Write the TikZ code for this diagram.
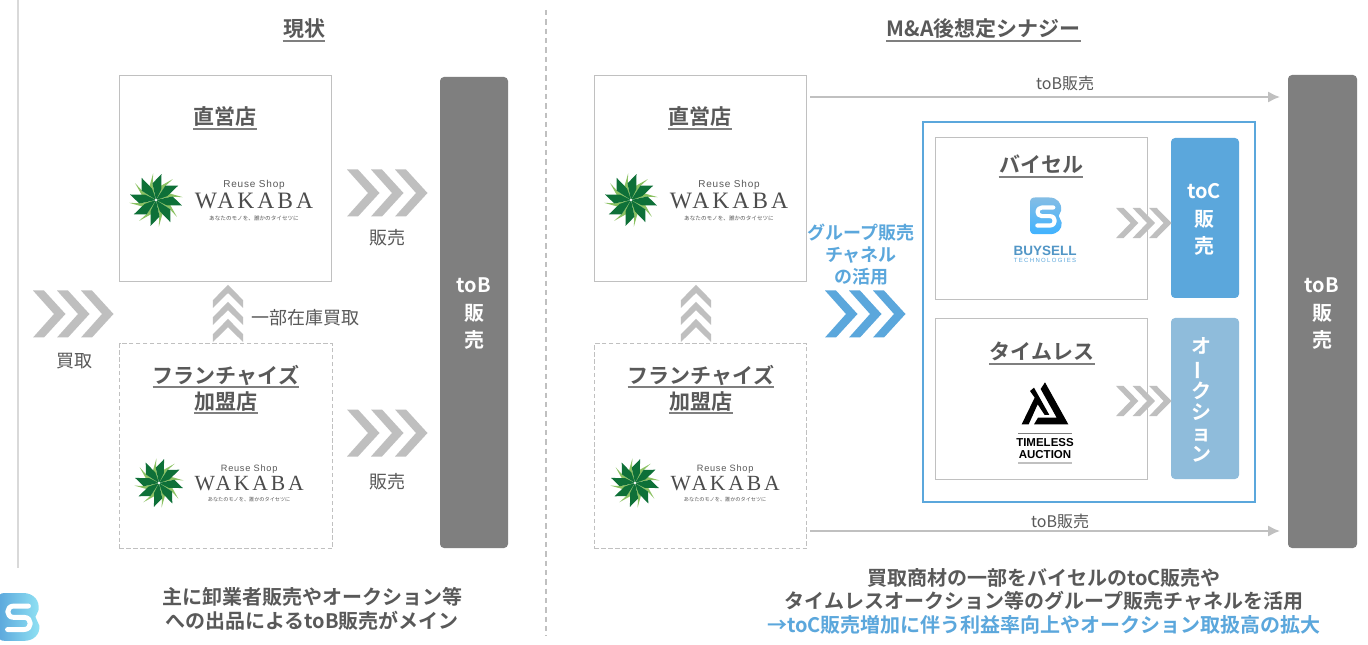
\documentclass[tikz,border=0pt]{standalone}
\usepackage{fontspec}
\setmainfont{Noto Sans CJK JP}[BoldFont={Noto Sans CJK JP Bold}]
\newfontfamily\wkfont[LetterSpace=13]{Liberation Serif}
\newfontfamily\rsfont[LetterSpace=8]{Liberation Sans}
\newfontfamily\techfont[LetterSpace=22]{Liberation Sans}
\newfontfamily\lgfont{Liberation Sans}
\usetikzlibrary{arrows.meta,calc}
\definecolor{txtgray}{HTML}{595959}
\definecolor{linegray}{HTML}{C0C0C0}
\definecolor{chevgray}{HTML}{BFBFBF}
\definecolor{darkbar}{HTML}{7F7F7F}
\definecolor{bsblue}{HTML}{5BA7DC}
\definecolor{aucblue}{HTML}{8FBCDB}
\definecolor{leafdark}{HTML}{0E7038}
\definecolor{leaflight}{HTML}{8CC263}
\newcommand\pxf[2]{\fontsize{\fpeval{#1*0.75}pt}{\fpeval{#2*0.75}pt}\selectfont}
\newcommand\boxnode[6][]{\node[#2,anchor=north west,minimum width=\fpeval{(#5-#3)*0.75}pt,minimum height=\fpeval{(#6-#4)*0.75}pt,#1] at (#3+0.5,#4+0.5) {};}
\newcommand\ultitle[5][21]{\node[titletext,font=\pxf{#1}{#1}\bfseries] (#2) at (#3,#4+1) {#5};
  \draw[ulline] ([yshift=-3.0pt]#2.base west) -- ([yshift=-3.0pt]#2.base east);}
\tikzset{
  x=0.75pt,y=-0.75pt,
  solidbox/.style={draw=linegray,line width=1.25pt,fill=white,inner sep=0pt,outer sep=0pt},
  dashbox/.style={draw=linegray,line width=1.25pt,dash pattern=on 3.2pt off 2pt,fill=white,inner sep=0pt,outer sep=0pt},
  frame/.style={draw=bsblue,line width=1.4pt,inner sep=0pt,outer sep=0pt,xshift=-0.375pt,yshift=0.375pt},
  darkcol/.style={fill=darkbar,rounded corners=3pt,inner sep=0pt,outer sep=0pt,xshift=-0.375pt,yshift=0.375pt},
  toccol/.style={fill=bsblue,rounded corners=3pt,inner sep=0pt,outer sep=0pt,xshift=-0.375pt,yshift=0.375pt},
  auccol/.style={fill=aucblue,rounded corners=3pt,inner sep=0pt,outer sep=0pt,xshift=-0.375pt,yshift=0.375pt},
  titletext/.style={anchor=base,inner sep=0pt,text=txtgray},
  ulline/.style={draw=darkbar,line width=1.4pt},
  plain/.style={inner sep=0pt,text=txtgray,font=\pxf{18}{22}},
  small/.style={inner sep=0pt,text=txtgray,font=\pxf{16}{20}},
  coltext/.style={inner sep=0pt,text=white,align=center,font=\pxf{20}{27.5}\bfseries},
  flow/.style={draw=linegray,line width=1.5pt,-{Latex[length=9pt,width=8.5pt]}},
  pics/chevs/.style={code={
    \foreach \d in {0,24,48}{
      \fill[#1] (\d,-23.5) -- ++(11,0) -- ++(21.5,23.5) -- ++(-21.5,23.5) -- ++(-11,0) -- ++(21,-23.5) -- cycle;}
  }},
  pics/star/.style={code={
    \foreach \k in {0,...,7}{
      \pgfmathsetmacro\a{12+45*\k}
      \fill[leaflight] (0,0) -- (\a-24:16) -- (\a-18:27) -- (\a-38:15) -- cycle;
    }
    \foreach \k in {0,...,7}{
      \pgfmathsetmacro\a{12+45*\k}
      \fill[leafdark] (0,0) -- (\a+14:12) -- (\a:26.5) -- (\a-24:17) -- cycle;
    }
    \fill[white] (0,0) circle (1.4);
  }},
  pics/wakaba/.style={code={
    \pic at (0,0) {star};
    \node[inner sep=0pt,text=txtgray,font=\rsfont\pxf{10}{10}] (-rs) at (98,-15) {Reuse Shop};
    \node[inner sep=0pt,text=black!70,font=\wkfont\pxf{23.5}{24}] (-wk) at (98,1) {WAKABA};
    \node[inner sep=0pt,text=txtgray,font=\pxf{5.6}{6}] (-tg) at (98,18) {あなたのモノを、誰かのタイセツに};
  }},
  pics/bslogo/.style 2 args={code={
    \shade[#1]
      (15,0) -- (58,0) .. controls (82,0) and (97,18) .. (93,40) -- (86,55) -- (95,75)
      .. controls (97,95) and (82,110) .. (60,110) -- (15,110) .. controls (5,110) and (0,105) .. (0,95)
      -- (0,15) .. controls (0,5) and (5,0) .. (15,0) -- cycle;
    \draw[white,line width=#2,line cap=round,line join=round]
      (70,30) -- (36,30) .. controls (18,30) and (18,56) .. (36,56) -- (60,56)
      .. controls (79,56) and (79,84) .. (60,84) -- (22,84);
  }},
}
\begin{document}
\begin{tikzpicture}
\useasboundingbox (0,0) rectangle (1368,645);
\fill[white] (0,0) rectangle (1368,645);
% dividers
\coordinate (divLtop) at (18,0); \coordinate (divLbot) at (18,568);
\coordinate (divMtop) at (546,10); \coordinate (divMbot) at (546,636);
\draw[draw=black!15,line width=1pt] (divLtop) -- (divLbot);
\draw[draw=linegray,line width=1pt,dash pattern=on 4pt off 3pt] (divMtop) -- (divMbot);
% titles
\ultitle{tL}{304}{36}{現状}
\ultitle{tR}{983.5}{36}{M\&A後想定シナジー}

% ---- left panel
\boxnode[name=lA]{solidbox}{119}{75}{331}{281}
\boxnode[name=lB]{dashbox}{119}{343}{332}{548}
\boxnode[name=lC]{darkcol}{440}{77}{508}{548}
\ultitle{lAt}{225}{124}{直営店}
\ultitle{lBt}{226}{382}{フランチャイズ}
\ultitle{lBu}{226}{408}{加盟店}
\pic (lw1) at (156,200) {wakaba};
\pic[scale=0.92,transform shape] (lw2) at (159,483) {wakaba};
\node[coltext] (lCt) at (474,314) {toB\\販\\売};
\pic at (33,314) {chevs=chevgray};
\pic at (347,193) {chevs=chevgray};
\pic at (347,433) {chevs=chevgray};
\pic[rotate=90,xscale=0.71,yscale=0.64] at (228,342) {chevs=chevgray};
\node[plain] (l1) at (74,361.5) {買取};
\node[plain] (l2) at (387,237.5) {販売};
\node[plain] (l3) at (387,481.5) {販売};
\node[plain] (l4) at (305,317.5) {一部在庫買取};
\node[inner sep=0pt,text=txtgray,align=center,font=\pxf{20}{23.5}\bfseries] (lnote) at (312,609) {主に卸業者販売やオークション等\\への出品によるtoB販売がメイン};

% ---- right panel
\boxnode[name=rA]{solidbox}{594}{75}{806}{281}
\boxnode[name=rB]{dashbox}{594}{343}{806}{548}
\boxnode[name=rC]{darkcol}{1288}{75}{1357}{548}
\ultitle{rAt}{700}{124}{直営店}
\ultitle{rBt}{701}{382}{フランチャイズ}
\ultitle{rBu}{701}{408}{加盟店}
\pic (rw1) at (631,200) {wakaba};
\pic[scale=0.92,transform shape] (rw2) at (635,483) {wakaba};
\node[coltext] (rCt) at (1322,314) {toB\\販\\売};
\pic[rotate=90,xscale=0.71,yscale=0.64] at (696,342) {chevs=chevgray};
\node[inner sep=0pt,text=bsblue,align=center,font=\pxf{18}{22}\bfseries] (grp) at (861,254.5) {グループ販売\\チャネル\\の活用};
\pic at (825,314) {chevs=bsblue};
% blue frame
\boxnode[name=fr]{frame}{923}{122}{1255}{502}
\boxnode[name=bb]{solidbox}{935}{137}{1147}{299}
\boxnode[name=tb]{solidbox}{935}{318}{1147}{479}
\boxnode[name=tocc]{toccol}{1171}{138}{1239}{298}
\boxnode[name=aucc]{auccol}{1171}{318}{1239}{479}
\ultitle{bbt}{1041}{172}{バイセル}
\ultitle{tbt}{1042}{359}{タイムレス}
\node[coltext] (toct) at (1204,219.5) {toC\\販\\売};
\node[inner sep=0pt,text=white,align=center,font=\pxf{20}{21}\bfseries] (auct) at (1201,400) {オ\\\rotatebox[origin=c]{90}{ー}\\ク\\シ\\ョ\\ン};
\pic[xscale=0.69,yscale=0.64] at (1116,223) {chevs=chevgray};
\pic[xscale=0.69,yscale=0.64] at (1116,401) {chevs=chevgray};
% buysell logo
\pic[scale=0.3333] at (1030,197.5) {bslogo={top color=bsblue!75!white,bottom color=cyan!60!blue!75!white}{3.1pt}};
\node[inner sep=0pt,text=bsblue!90!black,font=\lgfont\pxf{13.5}{14}\bfseries] (bsname) at (1045,250.5) {BUYSELL};
\node[inner sep=0pt,text=bsblue,font=\techfont\pxf{6}{6}] (bstech) at (1045,260) {TECHNOLOGIES};
% timeless logo
\begin{scope}[shift={(1010,375)},scale=0.3333]
  \fill[black] (105,22) -- (175,148) -- (72,148) -- (84,128) -- (140,128) -- (92,42) -- cycle;
  \fill[black] (72,38) -- (118,120) -- (104,120) -- (83,88) -- (56,148) -- (35,148) -- (74,68) -- (60,48) -- cycle;
\end{scope}
\coordinate (tl1a) at (1018,433.5); \coordinate (tl1b) at (1072,433.5);
\coordinate (tl2a) at (1018,463); \coordinate (tl2b) at (1072,463);
\draw[draw=darkbar,line width=0.8pt] (tl1a) -- (tl1b);
\draw[draw=linegray,line width=1pt] (tl2a) -- (tl2b);
\node[inner sep=0pt,text=black,align=center,font=\lgfont\pxf{11.5}{11.6}\bfseries] (tlname) at (1045,448.5) {TIMELESS\\AUCTION};
% flows
\coordinate (s1) at (810,97); \coordinate (e1) at (1280,97);
\coordinate (s2) at (810,531); \coordinate (e2) at (1280,531);
\draw[flow] (s1) -- (e1);
\draw[flow] (s2) -- (e2);
\node[small] (f1) at (1065,83) {toB販売};
\node[small] (f2) at (1060,521) {toB販売};
\node[inner sep=0pt,align=center,text=txtgray,font=\pxf{20}{23.5}\bfseries] (rnote) at (1044,601) {買取商材の一部をバイセルのtoC販売や\\タイムレスオークション等のグループ販売チャネルを活用\\\textcolor{bsblue}{→toC販売増加に伴う利益率向上やオークション取扱高の拡大}};
% corner logo
\pic[scale=0.435] at (-2,593) {bslogo={left color=bsblue,right color=bsblue!60!cyan!55!white}{3.7pt}};
\end{tikzpicture}
\end{document}
